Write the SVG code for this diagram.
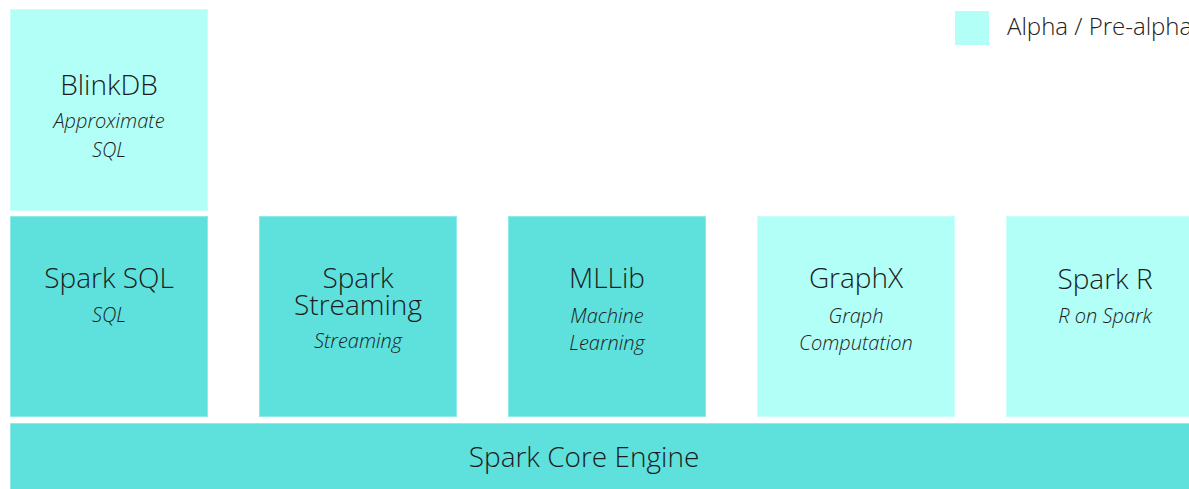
<svg xmlns="http://www.w3.org/2000/svg" width="1189" height="489" viewBox="0 0 1189 489">
<style>
.dark{fill:#5EE0DC;stroke:#8EECE8;stroke-width:1}
.light{fill:#B1FFF7;stroke:#C8FFFA;stroke-width:1}
.t{font-family:"Open Sans","Liberation Sans",sans-serif;font-weight:300;font-size:28px;fill:#1c1c1c;text-anchor:middle}
.s{font-family:"Open Sans","Liberation Sans",sans-serif;font-weight:300;font-style:italic;font-size:20px;fill:#1c1c1c;text-anchor:middle}
.lg{font-family:"Open Sans","Liberation Sans",sans-serif;font-weight:300;font-size:24px;fill:#222}
</style>
<rect width="1189" height="489" fill="#ffffff"/>
<g id="legend">
<rect x="955" y="11" width="34" height="34" fill="#B1FFF7"/>
<text class="lg" x="1007" y="35">Alpha / Pre-alpha</text>
</g>
<g id="blinkdb">
<rect class="light" x="10.5" y="9.5" width="197" height="201"/>
<text class="t" x="109" y="95">BlinkDB</text>
<text class="s" x="109" y="128">Approximate</text>
<text class="s" x="109" y="157">SQL</text>
</g>
<g id="sparksql">
<rect class="dark" x="10.5" y="216.5" width="197" height="200"/>
<text class="t" x="109" y="288">Spark SQL</text>
<text class="s" x="109" y="322">SQL</text>
</g>
<g id="streaming">
<rect class="dark" x="259.5" y="216.5" width="197" height="200"/>
<text class="t" x="358" y="288">Spark</text>
<text class="t" x="358" y="315">Streaming</text>
<text class="s" x="358" y="348">Streaming</text>
</g>
<g id="mllib">
<rect class="dark" x="508.5" y="216.5" width="197" height="200"/>
<text class="t" x="607" y="288">MLLib</text>
<text class="s" x="607" y="323">Machine</text>
<text class="s" x="607" y="350">Learning</text>
</g>
<g id="graphx">
<rect class="light" x="757.5" y="216.5" width="197" height="200"/>
<text class="t" x="856" y="288">GraphX</text>
<text class="s" x="856" y="323">Graph</text>
<text class="s" x="856" y="350">Computation</text>
</g>
<g id="sparkr">
<rect class="light" x="1006.5" y="216.5" width="197" height="200"/>
<text class="t" x="1105" y="289">Spark R</text>
<text class="s" x="1105" y="323">R on Spark</text>
</g>
<g id="core">
<rect class="dark" x="10.5" y="423.5" width="1200" height="80"/>
<text class="t" x="584" y="467">Spark Core Engine</text>
</g>
<g id="connectors"></g>
</svg>
